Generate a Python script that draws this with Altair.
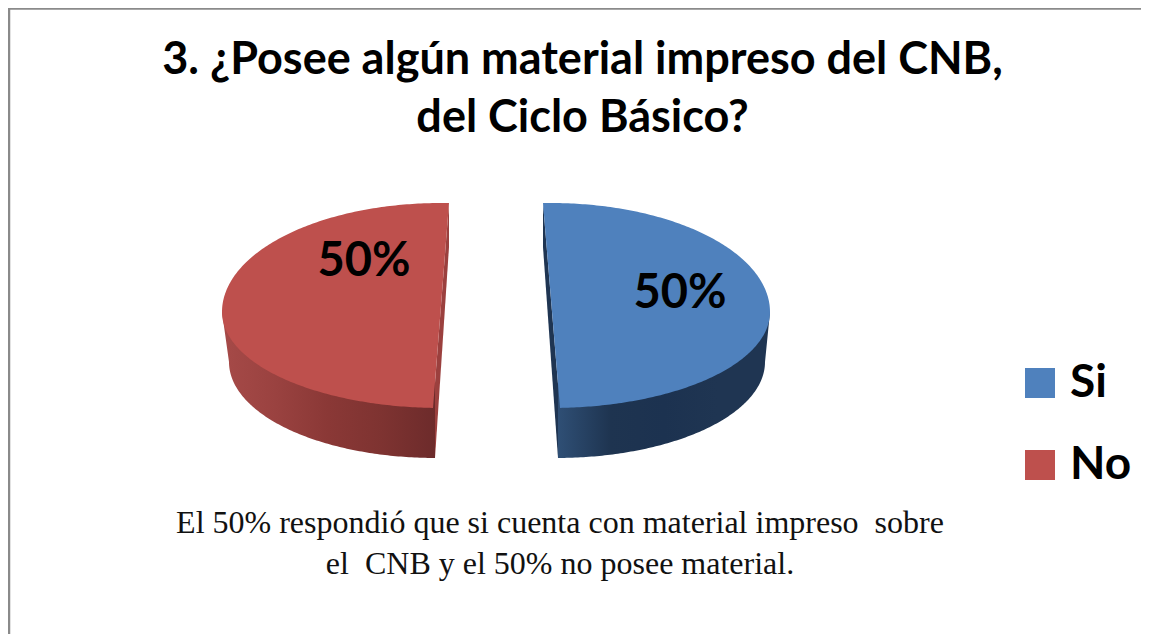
import numpy as np
import pandas as pd
import altair as alt

TITLE_LINES = ["3. ¿Posee algún material impreso del CNB,", "del Ciclo Básico?"]
CATEGORIES = ["Si", "No"]
SHARES = [50, 50]
COLORS = ["#4f81bd", "#be504d"]
CAPTION = ["El 50% respondió que si cuenta con material impreso\u00a0 sobre",
           "el\u00a0 CNB y el 50% no posee material."]
FRAME = "#8a8a8a"
SANS = "Lato"

X_SCALE = alt.Scale(domain=[8, 1141], nice=False, zero=False)
Y_SCALE = alt.Scale(domain=[634, 8], nice=False, zero=False)
X = alt.X("x:Q", axis=None, scale=X_SCALE)
Y = alt.Y("y:Q", axis=None, scale=Y_SCALE)

def grad(stops):
    n = len(stops) - 1
    return alt.Gradient(gradient="linear", x1=0, x2=1, y1=0, y2=0,
                        stops=[alt.GradientStop(offset=i / n, color=c) for i, c in enumerate(stops)])

YC, RY_UP, RY_DOWN, POWER, DEPTH, RX = 312, 109, 96, 1.0, 50, 219

def lerp(x, p, q):
    return p[1] + (q[1] - p[1]) * (x - p[0]) / (q[0] - p[0])

def upper(x, cx, rx=RX):
    u = np.clip((x - cx) / rx, -1, 1)
    return YC - RY_UP * (1 - u * u) ** (POWER / 2)

def lower(x, cx, rx=RX, yc=YC):
    u = np.clip((x - cx) / rx, -1, 1)
    return yc + RY_DOWN * np.sqrt(1 - u * u)

def slice_frames(share, side, cx, cut_top, cut_bot, cx2, rx2):
    """side=+1 for a slice to the right of its cut, -1 for the left one."""
    sweep = 2 * np.pi * share / 100
    t = np.linspace(-np.pi / 2, -np.pi / 2 + sweep, 241)
    edge = cx + side * RX
    xs = np.unique(np.r_[cx + side * RX * np.cos(t), cut_top[0], cut_bot[0]])
    lo, hi = sorted([cut_top[0], edge])
    xs = xs[(xs >= lo) & (xs <= hi)]
    beyond_cut = (xs < cut_bot[0]) if side > 0 else (xs > cut_bot[0])
    y2 = np.where(beyond_cut, lerp(xs, cut_top, cut_bot), lower(xs, cx))
    top = pd.DataFrame({"x": xs, "y": upper(xs, cx), "y2": y2})

    outer = (cx2 + side * rx2, YC + DEPTH)
    wall_start = cut_bot[0] - side * 2
    lo, hi = sorted([wall_start, edge])
    t2 = np.linspace(0, np.pi / 2, 121)
    wx = np.unique(np.r_[cx2 + side * rx2 * np.cos(t2), edge, wall_start])
    wx = wx[(wx >= lo) & (wx <= hi)]
    outside = (wx > outer[0]) if side > 0 else (wx < outer[0])
    wb = np.where(outside, lerp(wx, outer, (edge, YC)), lower(wx, cx2, rx2, YC + DEPTH))
    wall = pd.DataFrame({"x": wx, "y": np.full_like(wx, YC), "y2": wb})

    sliver_a = (cut_top[0], cut_top[1] + 44)
    sliver_b = (wall_start, YC + DEPTH + RY_DOWN)
    sx = np.array([cut_top[0], wall_start])
    sliver = pd.DataFrame({"x": sx, "y": lerp(sx, cut_top, cut_bot), "y2": lerp(sx, sliver_a, sliver_b)})
    return top, wall, sliver

blue_top, blue_wall, blue_sliver = slice_frames(SHARES[0], 1, 551, (543, 203), (560, 408), 556, 209)
red_top, red_wall, red_sliver = slice_frames(SHARES[1], -1, 441, (449, 203), (433, 408), 436, 207)
blue_top["category"] = CATEGORIES[0]
red_top["category"] = CATEGORIES[1]
tops = pd.concat([blue_top, red_top])

def area(df, fill):
    return alt.Chart(df).mark_area(color=fill, opacity=1).encode(x=X, y=Y, y2="y2:Q")

top_layer = alt.Chart(tops).mark_area(opacity=1).encode(
    x=X, y=Y, y2="y2:Q",
    color=alt.Color("category:N",
                    scale=alt.Scale(domain=CATEGORIES, range=COLORS),
                    legend=alt.Legend(title=None, orient="none", legendX=1009, legendY=352,
                                      symbolType="square", symbolSize=900, symbolOpacity=1,
                                      symbolStrokeWidth=0,
                                      labelFont=SANS, labelFontSize=46, labelFontWeight="bold",
                                      labelColor="#000000", labelOffset=7, rowPadding=36,
                                      labelLimit=200)),
)

labels = alt.Chart(pd.DataFrame({
    "x": [680, 364], "y": [294, 262], "t": [f"{s}%" for s in SHARES],
})).mark_text(font=SANS, fontSize=47, fontWeight="bold", color="#000000").encode(x=X, y=Y, text="t:N")

caption = alt.Chart(pd.DataFrame({
    "x": [560, 560], "y": [523, 564], "t": CAPTION,
})).mark_text(font="Liberation Serif", fontSize=32, color="#111111").encode(x=X, y=Y, text="t:N")

frame_top = alt.Chart(pd.DataFrame({"y": [8.5], "a": [8], "b": [1141]})).mark_rule(
    color=FRAME, strokeWidth=2.5).encode(y=Y, x=alt.X("a:Q", axis=None, scale=X_SCALE), x2="b:Q")
frame_left = alt.Chart(pd.DataFrame({"x": [9], "a": [8], "b": [634]})).mark_rule(
    color=FRAME, strokeWidth=2.5).encode(x=X, y=alt.Y("a:Q", axis=None, scale=Y_SCALE), y2="b:Q")

chart = alt.layer(
    frame_top, frame_left,
    area(blue_wall, grad(["#2f4f75", "#1e3450", "#1c3250", "#1f3552", "#1f3552"])),
    area(red_wall, grad(["#a64a48", "#9a4240", "#8a3836", "#7e3331", "#6d2b2b"])),
    area(blue_sliver, "#1f3552"),
    area(red_sliver, "#9b403e"),
    top_layer, labels, caption,
).properties(
    width=1133, height=626, padding=0, autosize=alt.AutoSizeParams(type="none"),
    title=alt.TitleParams(text=TITLE_LINES, font=SANS, fontSize=45, fontWeight="bold", color="#000000",
                          anchor="middle", baseline="top", offset=-134, dx=8, lineHeight=58),
).configure_view(stroke=None)

chart.save("out.html", embed_options={"renderer": "svg", "actions": False})
